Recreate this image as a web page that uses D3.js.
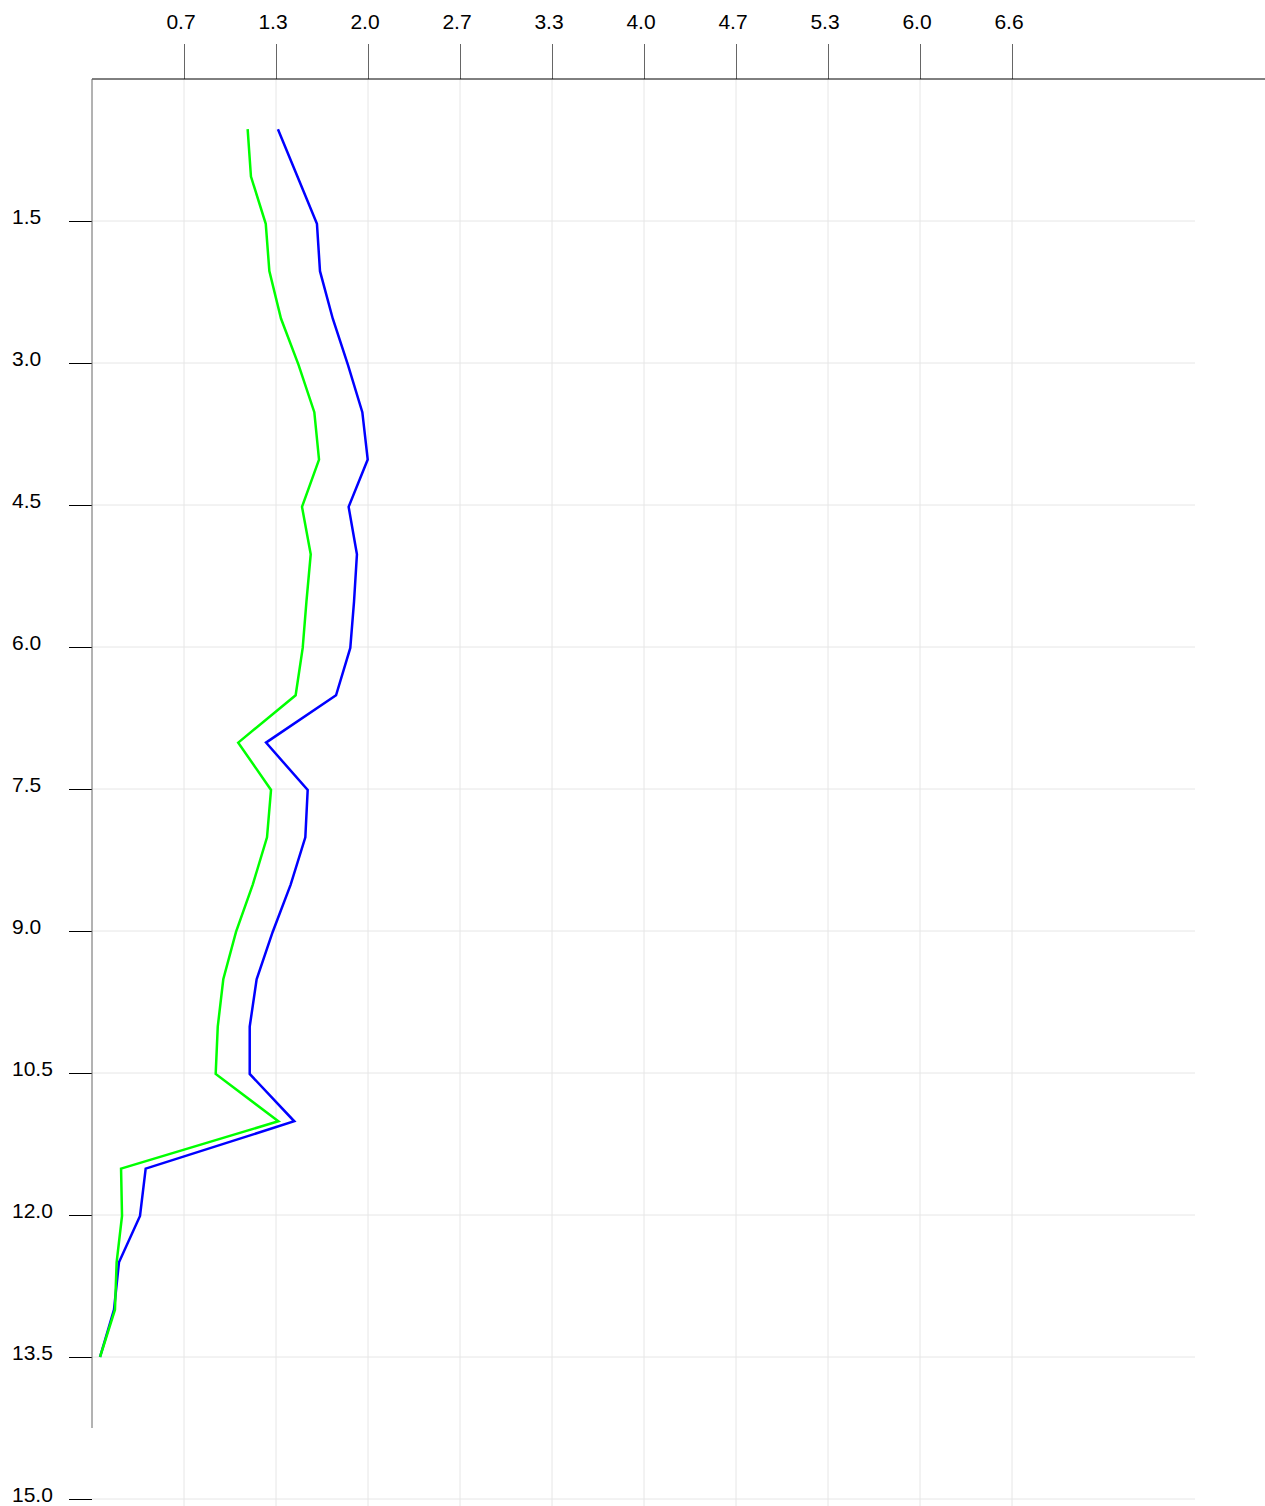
<!DOCTYPE html>
<html>
<head>
<meta charset="utf-8">
<script src="https://cdn.jsdelivr.net/npm/d3@7"></script>
<style>
  html, body { margin: 0; padding: 0; background: #fff; }
  svg { display: block; }
  text { font-family: "Liberation Sans", Arial, Helvetica, sans-serif; font-size: 21px; fill: #000; }
</style>
</head>
<body>
<svg id="chart" width="1265" height="1506"></svg>
<script>
// Depth of each sample (downward axis)
const depths = [0.53, 1.03, 1.53, 2.03, 2.53, 3.02, 3.52, 4.02, 4.52, 5.02, 5.52, 6.01, 6.51, 7.01,
                7.51, 8.01, 8.51, 9.01, 9.51, 10.01, 10.51, 11.01, 11.51, 12.01, 12.5, 13.0, 13.5];

// Blue profile
const blueValues = [1.344, 1.485, 1.626, 1.648, 1.740, 1.850, 1.954, 1.993, 1.855, 1.915, 1.894, 1.867,
                    1.764, 1.258, 1.559, 1.542, 1.436, 1.306, 1.190, 1.140, 1.140, 1.462, 0.388, 0.347,
                    0.195, 0.159, 0.058];

// Green profile
const greenValues = [1.125, 1.149, 1.256, 1.282, 1.366, 1.493, 1.607, 1.641, 1.518, 1.581, 1.550, 1.523,
                     1.472, 1.057, 1.294, 1.265, 1.162, 1.041, 0.949, 0.909, 0.894, 1.347, 0.210, 0.217,
                     0.178, 0.166, 0.058];

// Top axis ticks
const xTickValues = [0.665, 1.33, 1.995, 2.66, 3.325, 3.99, 4.655, 5.32, 5.985, 6.65];
const xTickLabels = ["0.7", "1.3", "2.0", "2.7", "3.3", "4.0", "4.7", "5.3", "6.0", "6.6"];

// Left axis ticks
const yTickValues = [1.5, 3.0, 4.5, 6.0, 7.5, 9.0, 10.5, 12.0, 13.5, 15.0];
const yTickLabels = ["1.5", "3.0", "4.5", "6.0", "7.5", "9.0", "10.5", "12.0", "13.5", "15.0"];

const svg = d3.select("#chart");

const x = d3.scaleLinear().domain([0, 6.65]).range([92, 1012]);
const y = d3.scaleLinear().domain([0, 15]).range([79, 1499]);

const gridRight = 1195;
const gridBottom = 1506;

// Grid
const grid = svg.append("g").attr("class", "grid");
grid.selectAll("line.v").data(xTickValues).join("line")
  .attr("class", "v")
  .attr("x1", d => x(d)).attr("x2", d => x(d))
  .attr("y1", y(0)).attr("y2", gridBottom)
  .attr("stroke", "#e6e6e6").attr("stroke-width", 1);
grid.selectAll("line.h").data(yTickValues).join("line")
  .attr("class", "h")
  .attr("x1", x(0)).attr("x2", gridRight)
  .attr("y1", d => y(d)).attr("y2", d => y(d))
  .attr("stroke", "#e6e6e6").attr("stroke-width", 1);

// Top axis
const xAxis = d3.axisTop(x)
  .tickValues(xTickValues)
  .tickFormat((d, i) => xTickLabels[i])
  .tickSize(35)
  .tickPadding(0);
const gx = svg.append("g").attr("transform", `translate(0,${y(0)})`).call(xAxis);
gx.select(".domain").remove();
gx.selectAll(".tick line").attr("stroke", "#666").attr("stroke-width", 1);
gx.selectAll(".tick text")
  .attr("y", -50).attr("dy", 0).attr("dx", -3.5)
  .attr("text-anchor", "middle")
  .style("font-size", "21px")
  .style("font-family", "'Liberation Sans', Arial, sans-serif")
  .attr("fill", "#000");
svg.append("line")
  .attr("x1", x(0)).attr("x2", 1265)
  .attr("y1", y(0)).attr("y2", y(0))
  .attr("stroke", "#000").attr("stroke-width", 1);

// Left axis
const yAxis = d3.axisLeft(y)
  .tickValues(yTickValues)
  .tickFormat((d, i) => yTickLabels[i])
  .tickSize(23)
  .tickPadding(0);
const gy = svg.append("g").attr("transform", `translate(${x(0)},0)`).call(yAxis);
gy.select(".domain").remove();
gy.selectAll(".tick line").attr("stroke", "#000").attr("stroke-width", 1);
gy.selectAll(".tick text")
  .attr("x", 12 - x(0)).attr("dy", 0).attr("y", 2.5)
  .attr("text-anchor", "start")
  .style("font-size", "21px")
  .style("font-family", "'Liberation Sans', Arial, sans-serif")
  .attr("fill", "#000");
svg.append("line")
  .attr("x1", x(0)).attr("x2", x(0))
  .attr("y1", y(0)).attr("y2", 1428)
  .attr("stroke", "#666").attr("stroke-width", 1);

// Profiles (green drawn last, on top)
const line = d3.line()
  .x(d => x(d[0]))
  .y(d => y(d[1]));

const series = [
  { values: blueValues, color: "#0000ff" },
  { values: greenValues, color: "#00ff00" }
];

svg.selectAll("path.profile").data(series).join("path")
  .attr("class", "profile")
  .attr("d", s => line(s.values.map((v, i) => [v, depths[i]])))
  .attr("fill", "none")
  .attr("stroke", s => s.color)
  .attr("stroke-width", 2.5)
  .attr("stroke-linejoin", "miter");
</script>
</body>
</html>
